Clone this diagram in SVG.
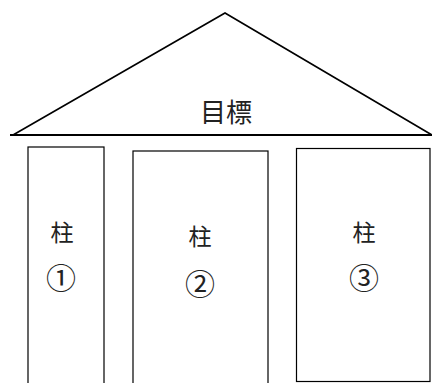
<svg xmlns="http://www.w3.org/2000/svg" width="432" height="383" viewBox="0 0 432 383">
<style>
.t{font-family:"Noto Sans CJK JP","Noto Sans CJK SC",sans-serif;text-anchor:middle;dominant-baseline:central;fill:#222}
.n{font-size:30px}
.p{fill:#fff;stroke:#000;stroke-width:1.2}
</style>
<rect width="432" height="383" fill="#fff"/>
<g id="roof">
<polyline points="13,135 225,13 432,135" fill="none" stroke="#000" stroke-width="1.6" stroke-linejoin="miter"/>
<line x1="10" y1="135" x2="432" y2="135" stroke="#000" stroke-width="2.2"/>
<text class="t" x="226" y="110" font-size="26" fill="#333">目標</text>
</g>
<g id="pillar1">
<rect class="p" x="28" y="147" width="76" height="240" stroke="#444"/>
<text class="t" x="62" y="231" font-size="23">柱</text>
<text class="t n" x="61" y="276">①</text>
</g>
<g id="pillar2">
<rect class="p" x="133" y="151" width="135" height="240"/>
<text class="t" x="200" y="235" font-size="23">柱</text>
<text class="t n" x="200" y="282">②</text>
</g>
<g id="pillar3">
<rect class="p" x="296.5" y="148.5" width="133.5" height="233"/>
<text class="t" x="364" y="231" font-size="23">柱</text>
<text class="t n" x="364" y="276">③</text>
</g>
<g id="connectors"/>
</svg>
